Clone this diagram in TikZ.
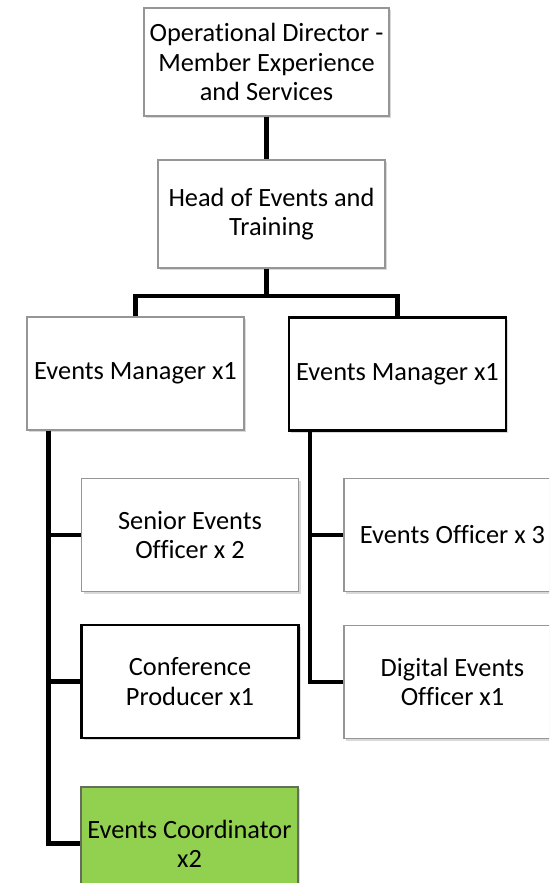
\documentclass[tikz,border=0pt]{standalone}
\usepackage{fontspec}
\setmainfont{Carlito}[Ligatures={NoCommon}]
\usepackage{xcolor}
\usetikzlibrary{shadows}
\definecolor{boxgrey}{RGB}{150,150,150}
\definecolor{coordgreen}{RGB}{146,208,80}
\definecolor{greenedge}{RGB}{100,110,90}

\tikzset{
orgbox/.style={rectangle, draw=boxgrey, line width=0.6pt, fill=white, align=center, minimum width=4.34cm, minimum height=2.26cm, inner sep=1pt, font=\fontsize{15}{16.6}\selectfont, drop shadow={shadow xshift=1.2pt, shadow yshift=-1.4pt, opacity=0.3}},
boldbox/.style={orgbox, draw=black, line width=1.4pt},
orgline/.style={line width=2.3pt}
}

\begin{document}
\begin{tikzpicture}[x=0.02cm, y=-0.02cm]
\useasboundingbox (0,0) rectangle (549,883);
\clip (0,0) rectangle (549,883);
\node[orgbox, minimum width=4.9cm, minimum height=2.16cm] (director) at (266.5,62) {Operational Director -\\Member Experience\\and Services};
\node[orgbox, minimum width=4.54cm, minimum height=2.16cm] (head) at (271.5,214) {Head of Events and\\Training};
\node[orgbox] (managerA) at (135.5,373.5) {Events Manager x1};
\node[boldbox] (managerB) at (397.5,374) {Events Manager x1};
\node[orgbox] (senior) at (190,535) {Senior Events\\Officer x 2};
\node[boldbox] (producer) at (190,681.5) {Conference\\Producer x1};
\node[orgbox, fill=coordgreen, draw=greenedge] (coordinator) at (189.5,843.5) {Events Coordinator\\x2};
\node[orgbox] (officer) at (452.5,535) {Events Officer x 3};
\node[orgbox] (digital) at (452.5,682) {Digital Events\\Officer x1};

\draw[orgline] (director.south) -- (director.south |- head.north);
\draw[orgline] (head.south -| director.south) -- ++(0,27) coordinate (split);
\draw[orgline] (managerA.north) |- (split) -| (managerB.north);
\draw[orgline] ([xshift=0.44cm]managerA.south west) coordinate (trunkA) |- (coordinator.west);
\draw[orgline] (trunkA |- senior.west) -- (senior.west);
\draw[orgline] (trunkA |- producer.west) -- (producer.west);
\draw[orgline] ([xshift=0.44cm]managerB.south west) coordinate (trunkB) |- (digital.west);
\draw[orgline] (trunkB |- officer.west) -- (officer.west);
\end{tikzpicture}
\end{document}
